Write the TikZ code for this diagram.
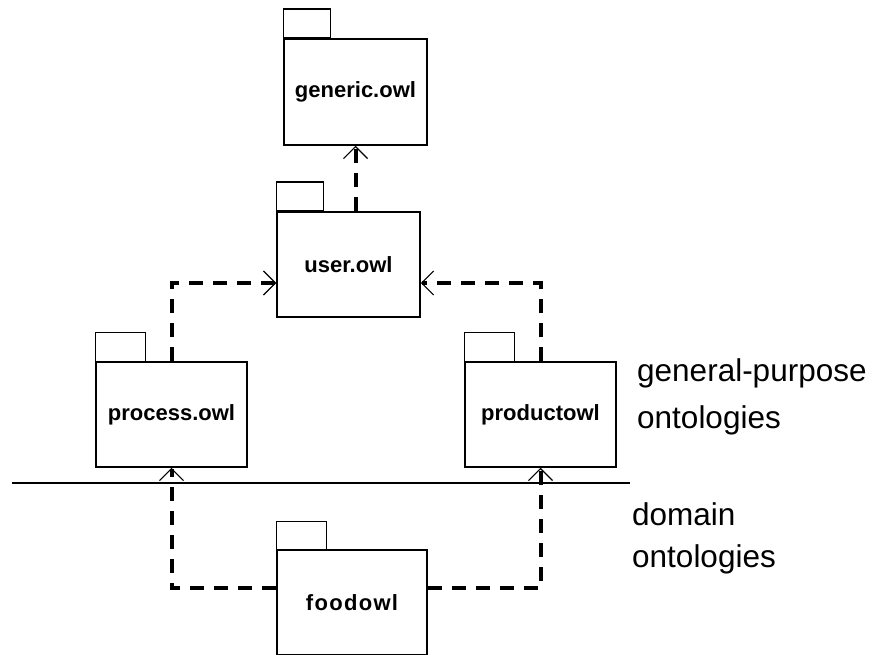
\documentclass[tikz,border=0pt]{standalone}
\usepackage{fontspec}
\setmainfont{Liberation Sans}
\usetikzlibrary{arrows.meta}
\tikzset{
  pkgbody/.style={draw=black, line width=1.5pt, fill=white, inner sep=0pt, font=\fontsize{22}{26}\selectfont\bfseries},
  pkgtab/.style={draw=black, line width=1.5pt, fill=white},
  dep/.style={line width=4pt, dash pattern=on 14pt off 10pt, -{Straight Barb[length=12pt,width=24pt,line width=1.2pt]}},
  sidelabel/.style={anchor=base west, inner sep=0pt, font=\fontsize{31.5}{36}\selectfont},
}
\begin{document}
\begin{tikzpicture}[x=1pt,y=-1pt]
\useasboundingbox (0,0) rectangle (873,655);
\begin{scope}
\clip (0,0) rectangle (873,655);
% packages
\node[pkgbody, minimum width=143pt, minimum height=106pt] (generic) at (355.5,92) {generic.owl};
\draw[pkgtab] (generic.north west) rectangle ++(47,-29);
\node[pkgbody, minimum width=143pt, minimum height=105pt] (user) at (348.5,264.5) {user.owl};
\draw[pkgtab] (user.north west) rectangle ++(47,-29);
\node[pkgbody, minimum width=151pt, minimum height=105pt] (process) at (171.5,414.5) {process.owl};
\draw[pkgtab] (process.north west) rectangle ++(50,-29);
\node[pkgbody, minimum width=151pt, minimum height=105pt] (product) at (540.5,414.5) {productowl};
\draw[pkgtab] (product.north west) rectangle ++(50,-29);
\node[pkgbody, minimum width=150pt, minimum height=105pt] (food) at (352,602.5) {\addfontfeature{LetterSpace=6}foodowl};
\draw[pkgtab] (food.north west) rectangle ++(50,-28);
% divider
\coordinate (divL) at (12,483);
\coordinate (divR) at (630,483);
\draw[line width=1.5pt] (divL) -- (divR);
% dependencies
\draw[dep] (user.north -| generic.south) -- (generic.south);
\draw[dep] (process.north) |- ([yshift=-18.5pt]user.west);
\draw[dep] (product.north) |- ([yshift=-18.5pt]user.east);
\draw[dep] ([yshift=14.5pt]food.west) -| (process.south);
\draw[dep] ([yshift=14.5pt]food.east) -| (product.south);
\end{scope}
% side labels
\node[sidelabel] (gp1) at (637,381) {general-purpose};
\node[sidelabel] (gp2) at (637,428) {ontologies};
\node[sidelabel] (dm1) at (632,525) {domain};
\node[sidelabel] (dm2) at (632,567) {ontologies};
\end{tikzpicture}
\end{document}
